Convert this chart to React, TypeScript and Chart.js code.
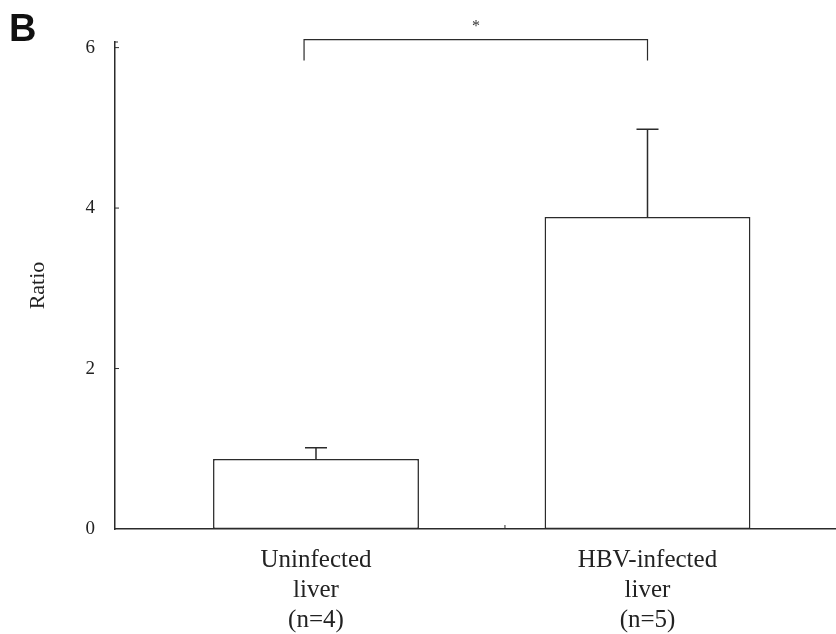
import React, { useEffect, useRef } from "react";
import { Chart, registerables } from "chart.js";

Chart.register(...registerables);

// ---- data ----
const groupPositions = [1, 2];
const groupLabels = [
  ["Uninfected", "liver", "(n=4)"],
  ["HBV-infected", "liver", "(n=5)"],
];
const ratioMeans = [0.872, 3.888];
const ratioErrors = [0.14, 1.095];
const yTickValues = [0, 2, 4, 6];
// significance bracket: [x start, x end], top level, leg bottom level
const bracketX = [0.964, 2.0];
const bracketTop = 6.1;
const bracketLegBottom = 5.84;
const starX = 1.483;
const starY = 6.3;
const starText = "*";
const minorXTick = 1.57;

const LINE = "#2b2b2b";
const SERIF = "'Liberation Serif', 'DejaVu Serif', serif";

const decorPlugin = {
  id: "decor",
  afterDatasetsDraw(chart: any) {
    const { ctx } = chart;
    const xs = chart.scales.x;
    const ys = chart.scales.y;
    ctx.save();
    ctx.strokeStyle = LINE;
    ctx.lineWidth = 1.5;

    // error bars (upper only)
    ratioMeans.forEach((m, i) => {
      const cx = xs.getPixelForValue(groupPositions[i]);
      const y0 = ys.getPixelForValue(m);
      const y1 = ys.getPixelForValue(m + ratioErrors[i]);
      ctx.beginPath();
      ctx.moveTo(cx, y0);
      ctx.lineTo(cx, y1);
      ctx.moveTo(cx - 11, y1);
      ctx.lineTo(cx + 11, y1);
      ctx.stroke();
    });

    // significance bracket
    const bx1 = xs.getPixelForValue(bracketX[0]);
    const bx2 = xs.getPixelForValue(bracketX[1]);
    const by = ys.getPixelForValue(bracketTop);
    const byl = ys.getPixelForValue(bracketLegBottom);
    ctx.lineWidth = 1.2;
    ctx.beginPath();
    ctx.moveTo(bx1, byl);
    ctx.lineTo(bx1, by);
    ctx.lineTo(bx2, by);
    ctx.lineTo(bx2, byl);
    ctx.stroke();

    ctx.fillStyle = "#333";
    ctx.font = `16px ${SERIF}`;
    ctx.textAlign = "center";
    ctx.textBaseline = "middle";
    ctx.fillText(starText, xs.getPixelForValue(starX), ys.getPixelForValue(starY) + 3);

    // inward y ticks
    const ax = chart.chartArea.left;
    ctx.lineWidth = 1;
    yTickValues.forEach((v) => {
      if (v === 0) return;
      const py = ys.getPixelForValue(v);
      ctx.beginPath();
      ctx.moveTo(ax, py);
      ctx.lineTo(ax + 4, py);
      ctx.stroke();
    });
    // top hook of y axis
    ctx.beginPath();
    ctx.moveTo(ax, chart.chartArea.top);
    ctx.lineTo(ax + 3, chart.chartArea.top);
    ctx.stroke();

    // minor x tick
    const mx = xs.getPixelForValue(minorXTick);
    const my = chart.chartArea.bottom;
    ctx.beginPath();
    ctx.moveTo(mx, my);
    ctx.lineTo(mx, my - 4);
    ctx.stroke();
    ctx.restore();
  },
};

export default function App() {
  const ref = useRef<HTMLCanvasElement | null>(null);
  useEffect(() => {
    if (!ref.current) return;
    const chart = new Chart(ref.current, {
      type: "bar",
      data: {
        datasets: [
          {
            data: groupPositions.map((x, i) => ({ x, y: ratioMeans[i] })),
            backgroundColor: "#ffffff",
            borderColor: LINE,
            borderWidth: 1.5,
            borderSkipped: false,
            barPercentage: 0.621,
            categoryPercentage: 1,
          },
        ],
      },
      options: {
        animation: false,
        responsive: false,
        devicePixelRatio: 1,
        layout: { padding: { top: 42, left: 0, right: 0, bottom: 0 } },
        plugins: { legend: { display: false }, tooltip: { enabled: false } },
        scales: {
          x: {
            type: "linear",
            min: 0.3937,
            max: 2.5686,
            offset: false,
            grid: { display: false, offset: false, drawTicks: false },
            border: { display: true, color: LINE, width: 1.5 },
            afterBuildTicks: (s: any) => {
              s.ticks = groupPositions.map((v) => ({ value: v }));
            },
            afterFit: (s: any) => {
              s.height = 105;
            },
            ticks: {
              padding: 16,
              color: "#222",
              font: { family: SERIF, size: 25, lineHeight: 1.2 },
              maxRotation: 0,
              autoSkip: false,
              callback: (v: any) => {
                const i = groupPositions.indexOf(Number(v));
                return i >= 0 ? groupLabels[i] : "";
              },
            },
          },
          y: {
            min: 0,
            max: 6.07,
            grid: { display: false, drawTicks: false },
            border: { display: true, color: LINE, width: 1.5 },
            afterBuildTicks: (s: any) => {
              s.ticks = yTickValues.map((v) => ({ value: v }));
            },
            afterFit: (s: any) => {
              s.width = 115;
            },
            ticks: {
              padding: 20,
              color: "#222",
              font: { family: SERIF, size: 19 },
            },
            title: {
              display: true,
              text: "Ratio",
              color: "#222",
              font: { family: SERIF, size: 22 },
              padding: { top: 25, bottom: 0 },
            },
          },
        },
      },
      plugins: [decorPlugin],
    });
    return () => chart.destroy();
  }, []);

  return (
    <div style={{ position: "fixed", left: 0, top: 0, width: 836, height: 634, background: "#fff" }}>
      <canvas ref={ref} width={836} height={634} style={{ display: "block" }} />
      <div
        style={{
          position: "absolute",
          left: 9,
          top: 6,
          fontFamily: "'Liberation Sans', Arial, sans-serif",
          fontWeight: 700,
          fontSize: 38,
          lineHeight: "44px",
          color: "#111",
        }}
      >
        B
      </div>
    </div>
  );
}
